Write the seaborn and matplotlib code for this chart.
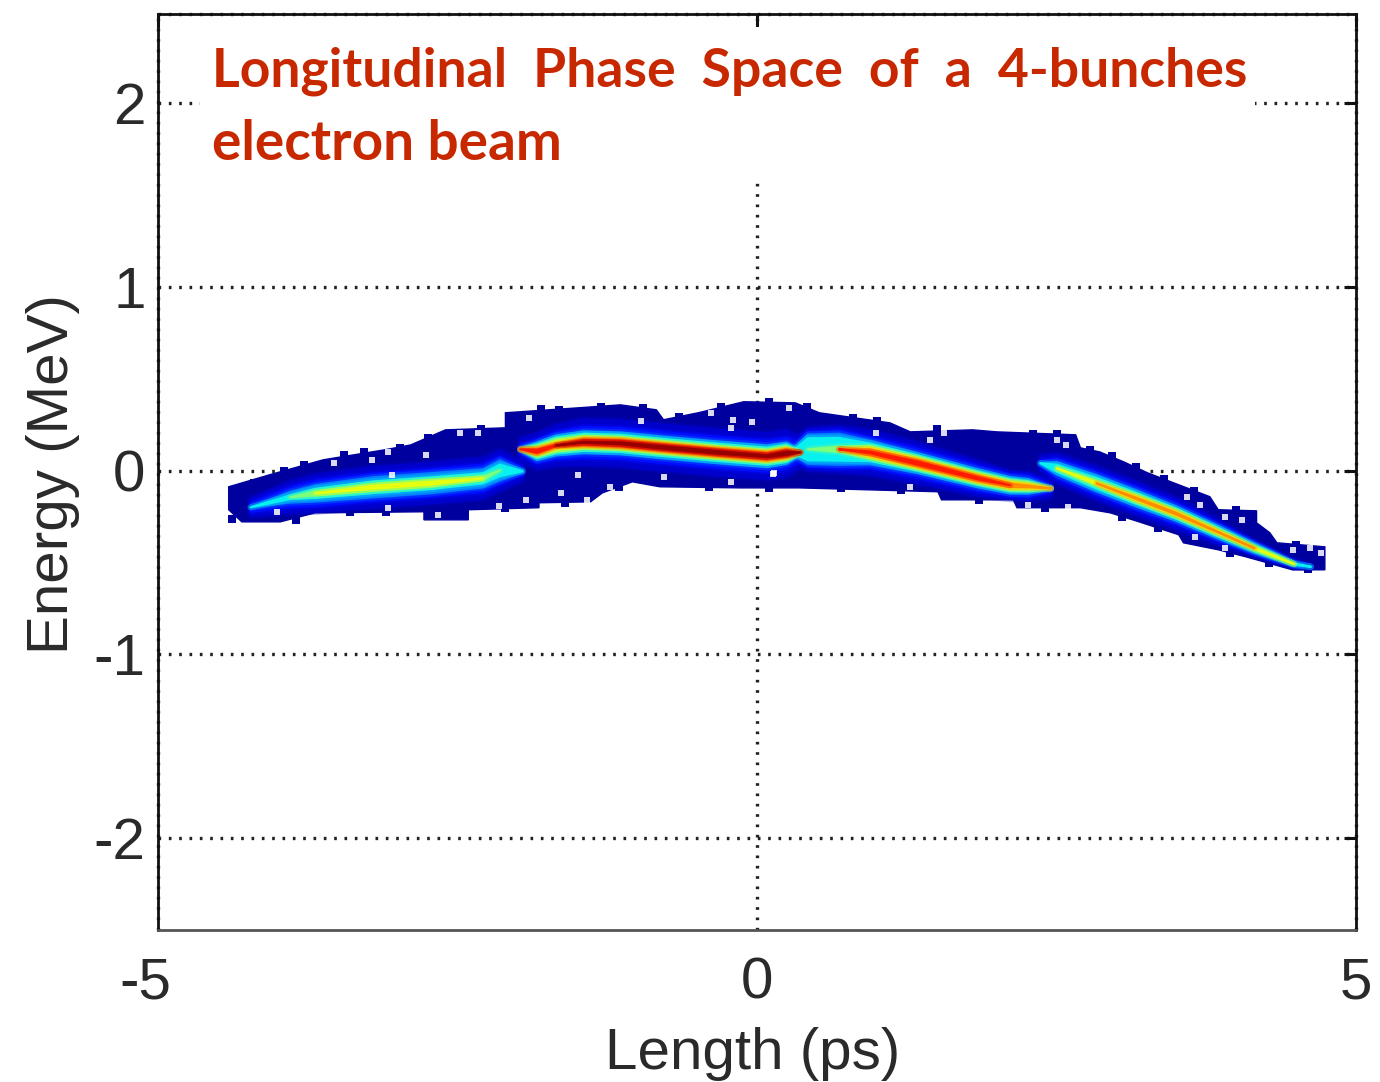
import matplotlib
matplotlib.use('Agg')
import matplotlib.pyplot as plt
import matplotlib.transforms as mtrans
import seaborn as sns

# longitudinal phase space of the 4 bunches

# outline of the whole beam (dark blue area)
beam_x = [-4.41, -4.07, -3.62, -3.11, -2.89, -2.60, -2.10, -2.10, -1.49, -1.14, -0.84, -0.78, -0.49, -0.11,
          0.32, 0.52, 1.11, 1.28, 1.80, 2.00, 2.66, 2.70, 2.86, 3.06, 3.26, 3.52, 3.78, 3.85, 4.17, 4.17,
          4.28, 4.34, 4.74, 4.74, 4.47, 4.08, 3.85, 3.56, 3.52, 3.19, 2.95, 2.70, 2.17, 2.14, 1.54, 1.51,
          0.35, -0.14, -0.81, -1.04, -1.29, -1.39, -1.82, -1.82, -2.41, -2.41, -2.78, -2.78, -3.69, -3.98,
          -4.30, -4.41]
beam_y = [-0.087, -0.022, 0.060, 0.114, 0.141, 0.223, 0.234, 0.316, 0.343, 0.359, 0.332, 0.278, 0.316, 0.376,
          0.370, 0.316, 0.261, 0.212, 0.223, 0.212, 0.196, 0.125, 0.103, 0.049, -0.011, -0.076, -0.141, -0.212,
          -0.218, -0.283, -0.337, -0.392, -0.414, -0.539, -0.539, -0.468, -0.430, -0.392, -0.348, -0.278,
          -0.229, -0.201, -0.201, -0.158, -0.158, -0.114, -0.093, -0.093, -0.087, -0.060, -0.120, -0.169,
          -0.174, -0.201, -0.212, -0.267, -0.267, -0.223, -0.229, -0.278, -0.278, -0.212]

# blocky cells that stick out along the beam edge
edge_x = [-4.20, -3.95, -3.78, -3.45, -3.28, -2.98, -2.75, -2.30, -1.80, -1.65, -1.30, -0.95, -0.65, -0.30, 0.10,
          0.42, 0.80, 1.00, 1.50, 2.30, 2.50, 2.78, 2.96, 3.16, 3.40, 3.65, 4.00, 4.50, 4.60, 4.27, 3.95, 3.35,
          3.05, 2.40, 1.85, 1.20, 0.70, 0.10, -0.40, -1.15, -1.60, -2.10, -3.10, -3.40, -3.85, -4.38]
edge_y = [-0.065, 0.000, 0.030, 0.085, 0.100, 0.125, 0.180, 0.225, 0.335, 0.330, 0.350, 0.340, 0.295, 0.345, 0.375,
          0.345, 0.290, 0.270, 0.225, 0.200, 0.200, 0.115, 0.080, 0.020, -0.045, -0.110, -0.215, -0.405, -0.535,
          -0.500, -0.450, -0.310, -0.250, -0.200, -0.160, -0.105, -0.095, -0.095, -0.090, -0.090, -0.175, -0.205,
          -0.225, -0.225, -0.270, -0.260]

# small empty spots inside the beam
hole_x = [-3.05, -3.53, -2.48, -2.33, -1.90, -0.97, -0.38, -0.20, -0.04, -0.22, -0.78, -0.22, 0.13, -1.49, -1.64,
          -1.93, -1.42, -1.23, -4.01, -3.08, -2.66, -2.15, -2.76, -3.08, -3.21, 1.56, 1.44, 0.99, 0.27, 2.50,
          2.58, 0.14, 1.28, 2.26, 2.60, 3.59, 3.70, 3.91, 4.05, 4.47, 4.62, 4.71, 3.91, 3.66]
hole_y = [-0.022, 0.044, 0.207, 0.207, 0.288, 0.272, 0.316, 0.278, 0.267, 0.234, -0.033, -0.060, -0.016, -0.022,
          -0.120, -0.158, -0.158, -0.087, -0.223, -0.201, -0.239, -0.190, 0.087, 0.103, 0.060, 0.207, 0.169,
          0.207, 0.343, 0.169, 0.141, -0.011, -0.087, -0.185, -0.196, -0.141, -0.185, -0.250, -0.267, -0.430,
          -0.419, -0.446, -0.419, -0.359]

# colour levels on the jet scale, then half thickness of each level along each bunch
levels = [0.07, 0.14, 0.25, 0.36, 0.50, 0.63, 0.76, 0.88, 0.98]

b1_x = [-4.23, -3.90, -3.69, -3.21, -2.73, -2.29, -2.15, -1.96]
b1_y = [-0.196, -0.141, -0.120, -0.087, -0.065, -0.038, 0.005, 0.000]
b1_w = [
    [0.050, 0.085, 0.100, 0.110, 0.110, 0.110, 0.110, 0.050],
    [0.025, 0.055, 0.070, 0.075, 0.075, 0.075, 0.075, 0.020],
    [0.000, 0.030, 0.045, 0.055, 0.055, 0.050, 0.055, 0.005],
    [0.000, 0.010, 0.025, 0.032, 0.032, 0.028, 0.032, 0.000],
    [0.000, 0.000, 0.012, 0.020, 0.020, 0.010, 0.000, 0.000],
    [0.000, 0.000, 0.000, 0.008, 0.008, 0.000, 0.000, 0.000],
]

b2_x = [-1.98, -1.84, -1.68, -1.45, -1.14, -0.81, -0.33, 0.08, 0.24, 0.36]
b2_y = [0.120, 0.109, 0.141, 0.158, 0.152, 0.131, 0.103, 0.082, 0.098, 0.103]
b2_w = [
    [0.060, 0.095, 0.110, 0.125, 0.125, 0.125, 0.125, 0.125, 0.125, 0.080],
    [0.025, 0.065, 0.075, 0.085, 0.085, 0.085, 0.085, 0.085, 0.085, 0.050],
    [0.005, 0.048, 0.055, 0.060, 0.060, 0.060, 0.060, 0.060, 0.058, 0.015],
    [0.000, 0.038, 0.043, 0.047, 0.047, 0.047, 0.047, 0.047, 0.047, 0.005],
    [0.000, 0.028, 0.033, 0.035, 0.035, 0.035, 0.035, 0.035, 0.037, 0.000],
    [0.000, 0.020, 0.022, 0.026, 0.026, 0.026, 0.026, 0.026, 0.028, 0.000],
    [0.000, 0.013, 0.008, 0.019, 0.020, 0.020, 0.020, 0.020, 0.021, 0.000],
    [0.000, 0.009, 0.003, 0.012, 0.014, 0.014, 0.014, 0.014, 0.015, 0.000],
    [0.000, 0.000, 0.000, 0.003, 0.005, 0.007, 0.007, 0.005, 0.009, 0.000],
]

b3_x = [0.28, 0.42, 0.68, 0.94, 1.34, 1.84, 2.11, 2.26, 2.45]
b3_y = [0.103, 0.120, 0.120, 0.103, 0.044, -0.038, -0.076, -0.082, -0.093]
b3_w = [
    [0.060, 0.115, 0.125, 0.120, 0.110, 0.095, 0.075, 0.075, 0.050],
    [0.030, 0.095, 0.105, 0.085, 0.080, 0.070, 0.060, 0.060, 0.020],
    [0.010, 0.080, 0.085, 0.065, 0.055, 0.050, 0.045, 0.040, 0.005],
    [0.000, 0.060, 0.062, 0.048, 0.042, 0.037, 0.033, 0.028, 0.000],
    [0.000, 0.000, 0.015, 0.034, 0.032, 0.028, 0.025, 0.020, 0.000],
    [0.000, 0.000, 0.000, 0.026, 0.025, 0.021, 0.018, 0.014, 0.000],
    [0.000, 0.000, 0.000, 0.016, 0.017, 0.014, 0.010, 0.005, 0.000],
    [0.000, 0.000, 0.000, 0.005, 0.009, 0.006, 0.000, 0.000, 0.000],
]

b4_x = [2.36, 2.50, 2.83, 3.16, 3.49, 3.81, 4.15, 4.48, 4.62]
b4_y = [0.044, 0.016, -0.065, -0.147, -0.229, -0.321, -0.419, -0.505, -0.520]
b4_w = [
    [0.040, 0.080, 0.090, 0.090, 0.085, 0.070, 0.040, 0.020, 0.006],
    [0.015, 0.055, 0.065, 0.065, 0.060, 0.048, 0.032, 0.014, 0.002],
    [0.000, 0.035, 0.045, 0.045, 0.040, 0.035, 0.025, 0.008, 0.000],
    [0.000, 0.020, 0.030, 0.030, 0.027, 0.024, 0.016, 0.003, 0.000],
    [0.000, 0.000, 0.014, 0.019, 0.017, 0.014, 0.008, 0.000, 0.000],
    [0.000, 0.000, 0.005, 0.012, 0.012, 0.009, 0.003, 0.000, 0.000],
    [0.000, 0.000, 0.000, 0.004, 0.005, 0.002, 0.000, 0.000, 0.000],
]

x_ticks = [-5, 0, 5]
y_ticks = [-2, -1, 0, 1, 2]

sns.set_theme(style='white')
plt.rcParams['font.family'] = ['Liberation Sans', 'DejaVu Sans']
plt.rcParams['axes.unicode_minus'] = False

jet = plt.get_cmap('jet')

fig = plt.figure(figsize=(13.8, 10.82), dpi=100)
ax = fig.add_axes([158 / 1380, 1 - 930 / 1082, 1198 / 1380, 916 / 1082])
ax.set_xlim(-5, 5)
ax.set_ylim(-2.5, 2.487)

dots = (0, (0.8, 2.3))
for y in y_ticks:
    ax.axhline(y, color='#222222', lw=2.4, ls=dots, zorder=0.5)
ax.axvline(0, color='#222222', lw=2.4, ls=dots, zorder=0.5)
ax.axhline(2.487, color='#222222', lw=2.4, ls=dots, zorder=0.5, clip_on=False)
ax.axvline(-5, color='#222222', lw=2.4, ls=dots, zorder=0.5, clip_on=False)
ax.axvline(5, color='#222222', lw=2.4, ls=dots, zorder=0.5, clip_on=False)

# white box behind the title hides the grid there
ax.fill_between([-4.65, 4.16], 1.58, 2.416, color='white', lw=0, zorder=1)

# beam
ax.fill(beam_x, beam_y, color=jet(0.03), lw=1, zorder=2)
sns.scatterplot(x=edge_x, y=edge_y, ax=ax, color=jet(0.03), marker='s', s=40, linewidth=0, zorder=2)

for x, y, widths in [(b1_x, b1_y, b1_w), (b2_x, b2_y, b2_w), (b3_x, b3_y, b3_w), (b4_x, b4_y, b4_w)]:
    for level, w in zip(levels, widths):
        # only the part of the ridge where this level exists, plus its tips
        keep = [i for i in range(len(w))
                if w[i] > 0 or (i > 0 and w[i - 1] > 0) or (i < len(w) - 1 and w[i + 1] > 0)]
        xs = [x[i] for i in keep]
        low = [y[i] - w[i] for i in keep]
        high = [y[i] + w[i] for i in keep]
        # soft wide edge under a sharper fill, the original is blurred
        ax.fill_between(xs, low, high, color=jet(level), lw=4.5, alpha=0.3, joinstyle='round', zorder=2 + level)
        ax.fill_between(xs, low, high, color=jet(level), lw=1.5, joinstyle='round', zorder=2 + level)

sns.scatterplot(x=hole_x, y=hole_y, ax=ax, color='white', marker='s', s=14, linewidth=0, alpha=0.85, zorder=3.5)

# frame and ticks
for side in ['top', 'left', 'right']:
    ax.spines[side].set_color('#111111')
    ax.spines[side].set_linewidth(2)
ax.spines['bottom'].set_color('#555555')
ax.spines['bottom'].set_linewidth(2)

ax.set_xticks(x_ticks)
ax.set_yticks(y_ticks)
ax.tick_params(axis='both', direction='in', length=9, width=2.2, color='#111111', top=True, right=True,
               labelsize=42, labelcolor='#2a2a2a')
ax.tick_params(axis='x', pad=19)
ax.tick_params(axis='y', pad=9)
shift = mtrans.ScaledTranslation(-13 / 100, 0, fig.dpi_scale_trans)
lab = ax.get_xticklabels()[0]
lab.set_transform(lab.get_transform() + shift)

ax.set_xlabel('Length (ps)', fontsize=42, color='#2a2a2a')
ax.set_ylabel('Energy (MeV)', fontsize=42, color='#2a2a2a')
ax.xaxis.set_label_coords(0.496, -0.106)
ax.yaxis.set_label_coords(-0.065, 0.498)

# title inside the plot
ax.text(-4.55, 2.09, 'Longitudinal  Phase  Space  of  a  4-bunches', family='Lato', fontweight='bold',
        fontsize=38.5, color='#c82800', zorder=4)
ax.text(-4.55, 1.693, 'electron beam', family='Lato', fontweight='bold',
        fontsize=39.5, color='#c82800', zorder=4)

plt.savefig('out.png', dpi=100)
